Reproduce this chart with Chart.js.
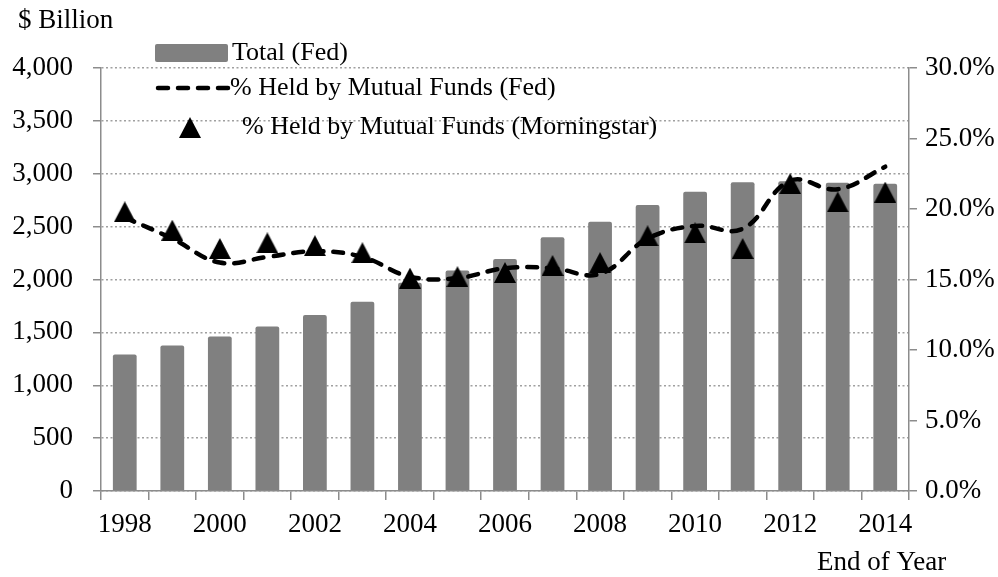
<!DOCTYPE html>
<html>
<head>
<meta charset="utf-8">
<script src="https://cdn.jsdelivr.net/npm/chart.js@4.4.1/dist/chart.umd.min.js"></script>
<style>
	html, body { margin: 0; padding: 0; background: #fff; }
	#wrapper-chart { width: 998px; height: 577px; position: relative; }
</style>
</head>
<body>
<div id="wrapper-chart"><canvas id="chart-mutual-funds"></canvas></div>
<script>
const years = ["1998", "1999", "2000", "2001", "2002", "2003", "2004", "2005", "2006",
	"2007", "2008", "2009", "2010", "2011", "2012", "2013", "2014"];

// $ Billion
const totalFed = [1290, 1375, 1460, 1555, 1665, 1790, 1970, 2085, 2195,
	2400, 2545, 2705, 2830, 2920, 2930, 2915, 2905];

// percent held by mutual funds
const pctFed = [19.4, 17.9, 16.2, 16.6, 17.0, 16.6, 15.2, 15.1, 15.8,
	15.8, 15.4, 17.9, 18.8, 18.6, 22.0, 21.4, 23.0];
const pctMorningstar = [19.8, 18.5, 17.2, 17.6, 17.4, 16.9, 15.1, 15.2, 15.5,
	16.0, 16.2, 18.1, 18.3, 17.2, 21.8, 20.5, 21.2];

const leftTicks = { min: 0, max: 4000, step: 500 };
const rightTicks = { min: 0, max: 30, step: 5 };

const FONT = '"Liberation Serif", "Times New Roman", serif';
const AXIS_GREY = "#8c8c8c";
const DASH = [10, 10];

Chart.defaults.font.family = FONT;
Chart.defaults.font.size = 27;
Chart.defaults.color = "#000";

// triangle marker (centred on its box, like the spreadsheet marker)
const triangleMark = document.createElement("canvas");
triangleMark.width = 22;
triangleMark.height = 21;
(() => {
	let c = triangleMark.getContext("2d");
	c.fillStyle = "#000";
	c.beginPath();
	c.moveTo(11, 0);
	c.lineTo(22, 21);
	c.lineTo(0, 21);
	c.closePath();
	c.fill();
})();

// axis captions + legend drawn inside the plot, as in the original
const captionPlugin = {
	id: "captions",
	afterDraw(chart) {
		let { ctx, chartArea } = chart;
		let l = chartArea.left, t = chartArea.top;
		ctx.save();
		ctx.fillStyle = "#000";
		ctx.textBaseline = "middle";
		ctx.font = "27px " + FONT;
		ctx.textAlign = "left";
		ctx.fillText("$ Billion", 18, 21);
		ctx.fillText("End of Year", 817, 563);

		ctx.font = "26px " + FONT;
		// Total (Fed)
		ctx.fillStyle = "#808080";
		ctx.beginPath();
		ctx.roundRect(l + 54, t - 24, 73, 18, 2);
		ctx.fill();
		ctx.fillStyle = "#000";
		ctx.fillText("Total (Fed)", l + 131, t - 15);

		// dashed line
		ctx.strokeStyle = "#000";
		ctx.lineWidth = 4.5;
		ctx.lineCap = "round";
		ctx.setLineDash(DASH);
		ctx.beginPath();
		ctx.moveTo(l + 57, t + 20);
		ctx.lineTo(l + 127, t + 20);
		ctx.stroke();
		ctx.setLineDash([]);
		ctx.fillText("% Held by Mutual Funds (Fed)", l + 129, t + 20);

		// triangle
		ctx.drawImage(triangleMark, l + 89 - 11, t + 59 - 10);
		ctx.fillText("% Held by Mutual Funds (Morningstar)", l + 141, t + 59);
		ctx.restore();
	},
};

let ctx = document.getElementById("chart-mutual-funds").getContext("2d");

new Chart(ctx, {
	data: {
		labels: years,
		datasets: [
			{
				type: "line",
				label: "% Held by Mutual Funds (Morningstar)",
				data: pctMorningstar,
				yAxisID: "y1",
				showLine: false,
				pointStyle: triangleMark,
				pointRadius: 11,
				order: 0,
			},
			{
				type: "line",
				label: "% Held by Mutual Funds (Fed)",
				data: pctFed,
				yAxisID: "y1",
				borderColor: "#000",
				borderWidth: 4.5,
				borderDash: DASH,
				borderCapStyle: "round",
				tension: 0.4,
				pointRadius: 0,
				fill: false,
				order: 1,
			},
			{
				type: "bar",
				label: "Total (Fed)",
				data: totalFed,
				yAxisID: "y",
				backgroundColor: "#808080",
				barPercentage: 0.5,
				categoryPercentage: 1,
				borderRadius: 2,
				borderSkipped: "bottom",
				order: 2,
			},
		],
	},
	options: {
		responsive: true,
		maintainAspectRatio: false,
		animation: false,
		layout: { padding: { top: 68, left: 0, right: 0, bottom: 0 } },
		plugins: {
			legend: { display: false },
			tooltip: { enabled: false },
		},
		scales: {
			x: {
				offset: true,
				grid: {
					offset: true,
					drawOnChartArea: false,
					drawTicks: true,
					tickLength: 9,
					color: AXIS_GREY,
					lineWidth: 1.5,
				},
				border: { color: AXIS_GREY, width: 1.5 },
				ticks: {
					autoSkip: false,
					maxRotation: 0,
					padding: 9,
					callback: (v, i) => (i % 2 === 0 ? years[i] : ""),
				},
				afterFit: (scale) => { scale.height = 86; },
			},
			y: {
				position: "left",
				min: leftTicks.min,
				max: leftTicks.max,
				ticks: {
					stepSize: leftTicks.step,
					padding: 20,
					callback: (v) => v.toLocaleString("en-US"),
				},
				grid: {
					color: "#a0a0a0",
					lineWidth: 1.5,
					tickLength: 8,
					tickColor: AXIS_GREY,
					tickWidth: 1.5,
					tickBorderDash: [],
				},
				border: { color: AXIS_GREY, width: 1.5, dash: [2, 2.5] },
				afterFit: (scale) => { scale.width = 101; },
			},
			y1: {
				position: "right",
				min: rightTicks.min,
				max: rightTicks.max,
				ticks: {
					stepSize: rightTicks.step,
					padding: 8,
					callback: (v) => v.toFixed(1) + "%",
				},
				grid: {
					drawOnChartArea: false,
					tickLength: 8,
					color: AXIS_GREY,
					lineWidth: 1.5,
				},
				border: { color: AXIS_GREY, width: 1.5 },
				afterFit: (scale) => { scale.width = 89; },
			},
		},
	},
	plugins: [captionPlugin],
});
</script>
</body>
</html>
